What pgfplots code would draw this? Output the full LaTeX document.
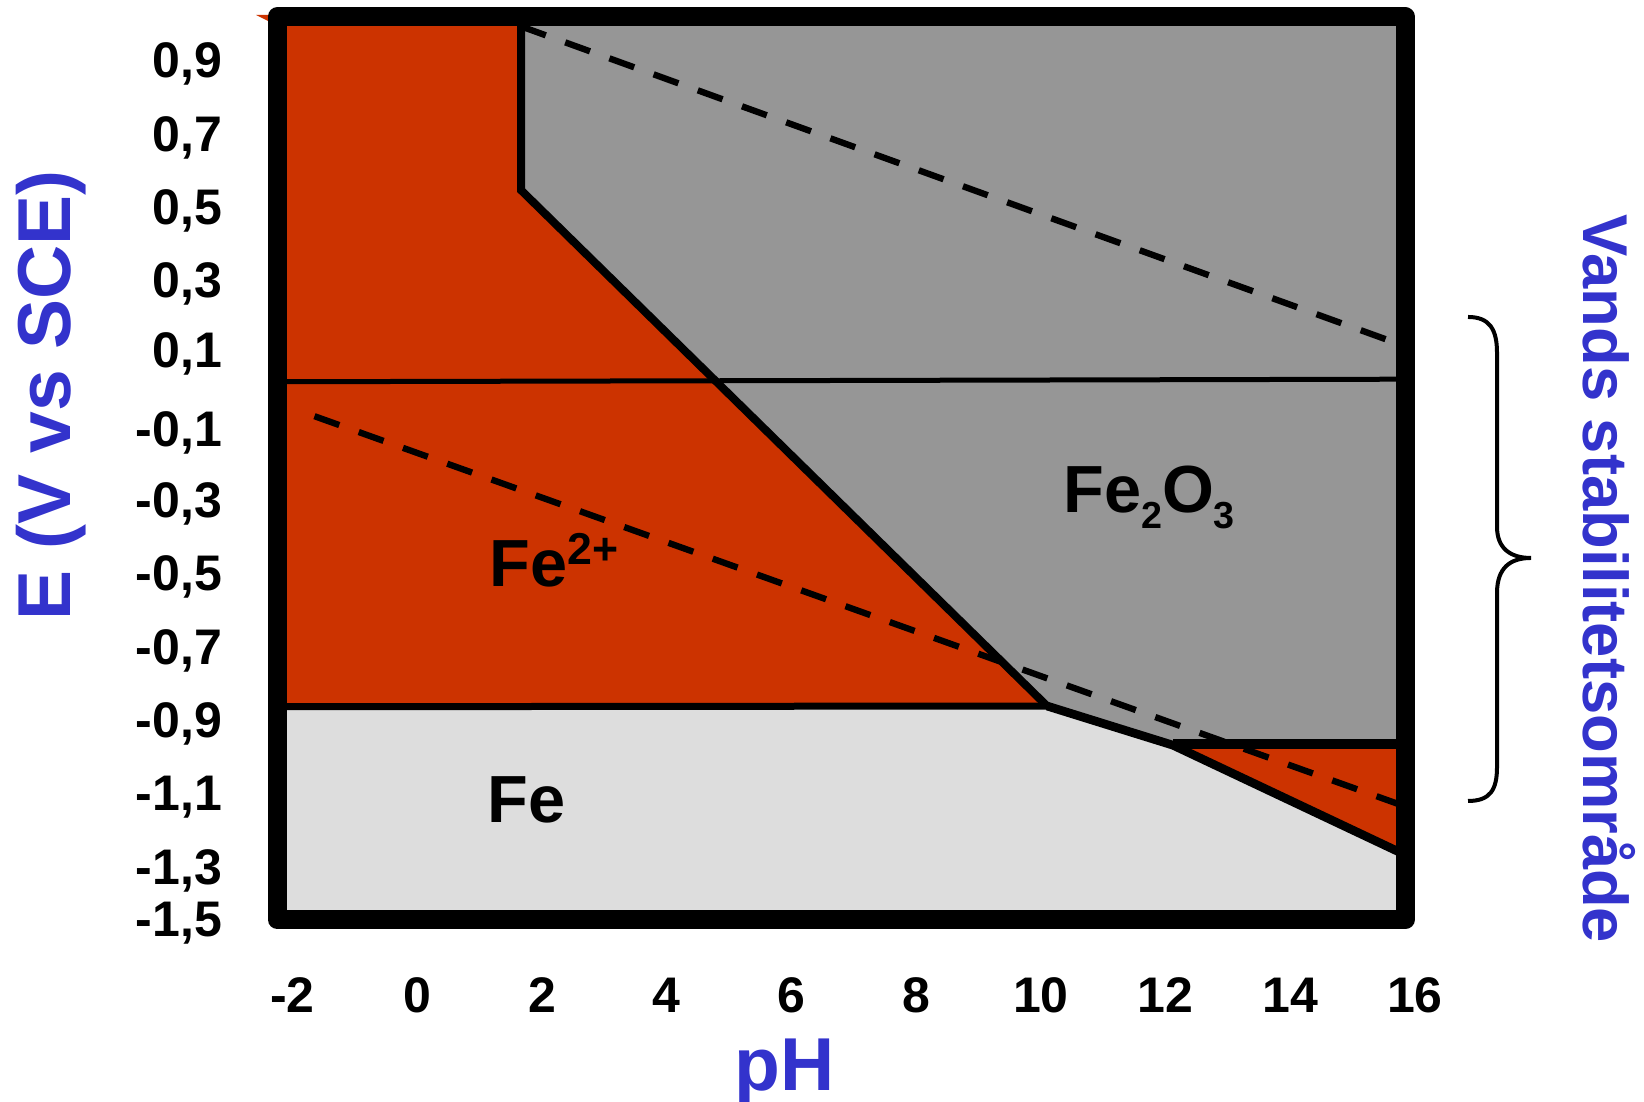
\documentclass[border=0pt]{standalone}
\usepackage{pgfplots}
\pgfplotsset{compat=1.18}
\usepackage{fontspec}
\setmainfont{Liberation Sans}
\definecolor{fered}{RGB}{204,51,0}
\definecolor{fegrey}{RGB}{150,150,150}
\definecolor{felight}{RGB}{221,221,221}
\definecolor{fblue}{RGB}{51,51,204}
\begin{document}
\begin{tikzpicture}
\useasboundingbox (0,0) rectangle (493.2pt,330.6pt);
\begin{scope}[x=0.3pt,y=-0.3pt,shift={(0pt,330.6pt)}]
  \fill[fered] (256,15) -- (282,15) -- (282,25) -- (270,22) -- cycle;
\end{scope}
\begin{axis}[
  at={(83.25pt,54.6pt)}, anchor=south west,
  scale only axis, width=338.25pt, height=271.05pt,
  xmin=-2.240, xmax=15.840, ymin=-1.447, ymax=1.019,
  axis on top, clip=false,
  axis line style={line width=5.7pt, line join=round},
  major tick length=0pt, tick style={draw=none},
  xtick={-2,0,2,4,6,8,10,12,14},
  xticklabels={-2,0,2,4,6,8,10,12,14},
  xticklabel style={font=\bfseries\fontsize{15}{15}\selectfont, anchor=north, inner sep=0pt, yshift=-17.1pt},
  ytick={0.9,0.7,0.5,0.3,0.11,-0.105,-0.3,-0.5,-0.7,-0.9,-1.1,-1.3,-1.444},
  yticklabels={{0,9},{0,7},{0,5},{0,3},{0,1},{-0,1},{-0,3},{-0,5},{-0,7},{-0,9},{-1,1},{-1,3},{-1,5}},
  yticklabel style={font=\bfseries\fontsize{15}{15}\selectfont, anchor=base east, inner sep=0pt, xshift=-16.5pt, yshift=-5.37pt},
  xlabel={pH},
  xlabel style={at={(rel axis cs:0.450,0)}, anchor=base, yshift=-51.3pt, inner sep=0pt, font=\bfseries\fontsize{22.5}{22.5}\selectfont, text=fblue},
  ylabel={E (V vs SCE)},
  ylabel style={at={([xshift=-61.95pt]rel axis cs:0,0.581)}, anchor=base, inner sep=0pt, font=\bfseries\fontsize{22.5}{22.5}\selectfont, text=fblue},
]
% Fe (background region)
\addplot[fill=felight, draw=none] coordinates {(-2.24,-1.447) (15.84,-1.447) (15.84,1.019) (-2.24,1.019)} -- cycle;
% Fe2O3
\addplot[fill=fegrey, draw=none] coordinates {(1.665,1.019) (15.84,1.019) (15.84,-0.967) (12.12,-0.968) (10.10,-0.863) (1.665,0.545)} -- cycle;
% Fe2+
\addplot[fill=fered, draw=none] coordinates {(-2.24,1.019) (1.665,1.019) (1.665,0.545) (10.10,-0.863) (-2.24,-0.865)} -- cycle;
% HFeO2-
\addplot[fill=fered, draw=none] coordinates {(12.12,-0.968) (15.84,-0.967) (15.84,-1.269)} -- cycle;
% boundaries
\addplot[black, line width=1.5pt] coordinates {(-2.24,0.022) (15.84,0.029)};
\addplot[black, line width=2.4pt] coordinates {(1.665,1.019) (1.665,0.545) (10.10,-0.863)};
\addplot[black, line width=2.1pt] coordinates {(-2.24,-0.865) (10.10,-0.863)};
\addplot[black, line width=2.6pt] coordinates {(10.10,-0.863) (12.12,-0.970) (15.84,-1.269)};
\addplot[black, line width=3pt] coordinates {(12.12,-0.967) (15.84,-0.967)};
% water stability lines
\addplot[black, line width=1.9pt, dash pattern=on 7.9pt off 6.2pt] coordinates {(1.665,0.992) (15.84,0.119)};
\addplot[black, line width=1.9pt, dash pattern=on 7.9pt off 6.2pt] coordinates {(-1.647,-0.072) (15.84,-1.137)};
% last pH tick label (lies just beyond the frame line)
\node[anchor=north, inner sep=0pt, yshift=-17.1pt, font=\bfseries\fontsize{15}{15}\selectfont] at (axis cs:16,-1.447) {16};
% region labels
\node[anchor=base west, inner sep=0pt, font=\bfseries\fontsize{20}{20}\selectfont] at (axis cs:10.35,-0.336) {Fe\raisebox{-4.8pt}{\fontsize{11.3}{11.3}\selectfont 2}O\raisebox{-4.8pt}{\fontsize{11.3}{11.3}\selectfont 3}};
\node[anchor=base west, inner sep=0pt, font=\bfseries\fontsize{20}{20}\selectfont] at (axis cs:1.15,-0.538) {Fe\raisebox{6.6pt}{\fontsize{13.4}{13.4}\selectfont 2+}};
\node[anchor=base west, inner sep=0pt, font=\bfseries\fontsize{20}{20}\selectfont] at (axis cs:1.12,-1.182) {Fe};
\end{axis}
\begin{scope}[x=0.3pt,y=-0.3pt,shift={(0pt,330.6pt)}]
  \draw[line width=1.2pt] (1468,317) .. controls (1490,317) and (1497,330) .. (1497,353) -- (1497,527) .. controls (1497,548) and (1510,558) .. (1531,558) .. controls (1510,558) and (1497,568) .. (1497,593) -- (1497,767) .. controls (1497,790) and (1490,801) .. (1468,801);
  \node[rotate=-90, anchor=base, inner sep=0pt, text=fblue, font=\bfseries\fontsize{19}{19}\selectfont] at (1583,579) {Vands stabilitetsområde};
\end{scope}
\end{tikzpicture}
\end{document}
